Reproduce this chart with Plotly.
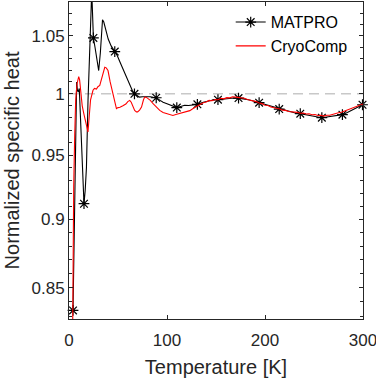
import math
import plotly.graph_objects as go

# ---- data ----
T_matpro = [4.1, 5.0, 6.0, 7.0, 7.8, 8.6, 9.3, 10.5, 11.5, 12.7, 14.0, 15.3, 16.5, 17.8,
            19.4, 21.0, 22.5, 23.2, 24.0, 24.9, 26.5, 28.5, 30.3, 32.0, 33.2, 34.2, 35.5,
            37.5, 40.0, 43.0, 46.7, 49.0, 52.0, 55.0, 57.0, 60.0, 62.0, 64.5, 66.8, 70, 72,
            75, 79, 83, 86, 89, 93, 96, 100, 103, 106, 110, 114, 118, 122, 126, 131, 137,
            142, 147, 152, 158, 163, 168, 173, 178, 183, 188, 194, 200, 205, 210, 214.5,
            220, 225, 230, 236, 242, 247, 252, 258, 263, 268, 274, 279, 284, 289, 294, 299.5]
cp_matpro = [0.834, 0.88, 0.945, 0.995, 1.010, 1.003, 1.0014, 1.0045, 0.985, 0.965, 0.93,
             0.912, 0.922, 0.94, 0.9945, 1.04, 1.085, 1.09, 1.07, 1.048, 1.04, 1.03, 1.0197,
             1.035, 1.055, 1.064, 1.062, 1.054, 1.047, 1.041, 1.036, 1.033, 1.027, 1.021,
             1.017, 1.011, 1.007, 1.003, 1.000, 0.998, 0.9972, 0.9975, 0.9978, 0.9976, 0.997,
             0.9967, 0.9945, 0.993, 0.9918, 0.991, 0.9898, 0.9885, 0.9895, 0.9905, 0.9902,
             0.9906, 0.9912, 0.993, 0.9942, 0.9948, 0.9951, 0.9958, 0.9962, 0.9965, 0.9964,
             0.996, 0.995, 0.994, 0.9926, 0.991, 0.9898, 0.9885, 0.9873, 0.986, 0.985,
             0.9842, 0.9835, 0.9826, 0.982, 0.9808, 0.9802, 0.9808, 0.9815, 0.982, 0.9827,
             0.9845, 0.9865, 0.9885, 0.9909]

T_marks = [4.1, 15.3, 24.9, 46.7, 66.8, 89, 110, 131, 152, 173, 194, 214.5, 236, 258, 279, 299.5]
cp_marks = [0.834, 0.912, 1.048, 1.036, 1.000, 0.9967, 0.9885, 0.9912, 0.9951, 0.9964,
            0.9926, 0.9873, 0.9835, 0.9802, 0.9827, 0.9909]

T_cryo = [3.3, 3.8, 4.8, 5.8, 6.8, 8.2, 9.9, 10.8, 12, 13.5, 15, 17, 19.4, 20.5, 22, 24.5,
          26, 28, 29.5, 31.4, 33, 35, 36.5, 38, 39.8, 42, 45, 46.5, 48.4, 50, 52, 55, 58,
          60, 62, 63.5, 65.4, 67, 68.8, 70, 72, 74, 76, 77.3, 79, 80.7, 83, 85.8, 89, 92.6,
          96, 100, 103, 106, 109, 112, 116, 120, 123.3, 127, 130, 133.5, 137, 140, 143, 146,
          149, 152, 155, 158, 161, 164, 167, 170, 173, 176, 179, 182, 185, 188, 191, 194,
          197, 200, 203, 206, 209, 212, 215, 218, 221, 224, 227, 230, 233, 236, 239, 242,
          245, 248, 251, 254, 257, 260, 263, 266, 269, 272, 275, 278, 281, 284, 287, 290,
          293, 296, 299, 300]
cp_cryo = [0.78, 0.85, 0.925, 0.965, 0.9945, 1.0085, 1.0145, 1.012, 1.0, 0.99, 0.984, 0.976,
           0.9685, 0.98, 0.995, 1.003, 1.0045, 1.004, 1.006, 1.007, 1.012, 1.019, 1.0225,
           1.022, 1.0197, 1.01, 1.0, 0.993, 0.9876, 0.9885, 0.9888, 0.990, 0.9915, 0.9935,
           0.9945, 0.993, 0.989, 0.9862, 0.985, 0.985, 0.9865, 0.989, 0.995, 0.9973, 0.997,
           0.996, 0.9945, 0.9918, 0.989, 0.9862, 0.9845, 0.9835, 0.9825, 0.982, 0.9828,
           0.9835, 0.9842, 0.985, 0.986, 0.988, 0.9895, 0.991, 0.9925, 0.9932, 0.9945, 0.9942,
           0.9952, 0.995, 0.9962, 0.9958, 0.9968, 0.9966, 0.9975, 0.9972, 0.9968, 0.9962,
           0.9963, 0.9952, 0.9948, 0.9938, 0.9935, 0.9924, 0.9918, 0.9905, 0.9902, 0.989,
           0.9886, 0.9876, 0.9874, 0.9864, 0.9862, 0.9853, 0.9852, 0.9845, 0.9846, 0.9838,
           0.984, 0.9832, 0.9834, 0.9826, 0.9828, 0.982, 0.9822, 0.9815, 0.9822, 0.9822,
           0.983, 0.9833, 0.9842, 0.9846, 0.9855, 0.9862, 0.9872, 0.988, 0.9892, 0.99,
           0.9912, 0.9915]

x_ticks = [0, 100, 200, 300]
y_ticks = [0.85, 0.9, 0.95, 1, 1.05]
y_ticklabels = ["0.85", "0.9", "0.95", "1", "1.05"]
y_minor = [round(0.83 + 0.01 * i, 2) for i in range(26)]
x_range = [0, 300]
y_range = [0.828, 1.08]

FONT = "Liberation Sans, Arial, sans-serif"
TXT = "#262626"

fig = go.Figure()
fig.add_trace(go.Scatter(x=T_matpro, y=cp_matpro, mode="lines",
                         line=dict(color="black", width=1.1), showlegend=False,
                         hoverinfo="skip"))
fig.add_trace(go.Scatter(x=T_marks, y=cp_marks, mode="markers",
                         marker=dict(symbol="asterisk-open", size=9, color="black",
                                     line=dict(color="black", width=1.2)),
                         showlegend=False, cliponaxis=False, hoverinfo="skip"))
fig.add_trace(go.Scatter(x=[None], y=[None], mode="lines+markers", name="MATPRO",
                         line=dict(color="black", width=1.1),
                         marker=dict(symbol="asterisk-open", size=9, color="black",
                                     line=dict(color="black", width=1.2))))
fig.add_trace(go.Scatter(x=T_cryo, y=cp_cryo, mode="lines", name="CryoComp",
                         line=dict(color="#ff0000", width=1.1), hoverinfo="skip"))

fig.add_shape(type="line", xref="paper", yref="y", x0=0, x1=1, y0=1, y1=1,
              line=dict(color="#c8c8c8", width=1.5, dash="10px,6px"), layer="below")

fig.update_layout(
    width=376, height=378,
    margin=dict(l=69, r=13, t=2, b=59),
    paper_bgcolor="white", plot_bgcolor="white",
    font=dict(family=FONT, size=17, color=TXT),
    hovermode=False,
    legend=dict(x=0.55, y=0.99, xanchor="left", yanchor="top",
                bgcolor="rgba(0,0,0,0)", borderwidth=0,
                font=dict(size=16, color="black"), tracegroupgap=0),
    xaxis=dict(range=x_range, tickvals=x_ticks, ticks="inside", ticklen=4,
               tickcolor=TXT, showline=True, linecolor=TXT, linewidth=1,
               mirror="ticks", showgrid=False, zeroline=False, automargin=False,
               ticklabeloverflow="allow", ticklabelstandoff=6,
               title=dict(text="Temperature [K]", font=dict(size=20), standoff=10)),
    yaxis=dict(type="log", range=[math.log10(y_range[0]), math.log10(y_range[1])],
               tickvals=y_ticks, ticktext=y_ticklabels, ticks="inside", ticklen=4,
               tickcolor=TXT, showline=True, linecolor=TXT, linewidth=1,
               mirror="ticks", showgrid=False, zeroline=False, automargin=False,
               minor=dict(tickvals=y_minor, ticks="inside", ticklen=3, tickcolor=TXT,
                          showgrid=False),
               title=dict(text="Normalized specific heat", font=dict(size=20), standoff=6)),
)

fig.write_html("out.html", config={"displayModeBar": False},
               post_script="document.body.style.margin='0px';")
